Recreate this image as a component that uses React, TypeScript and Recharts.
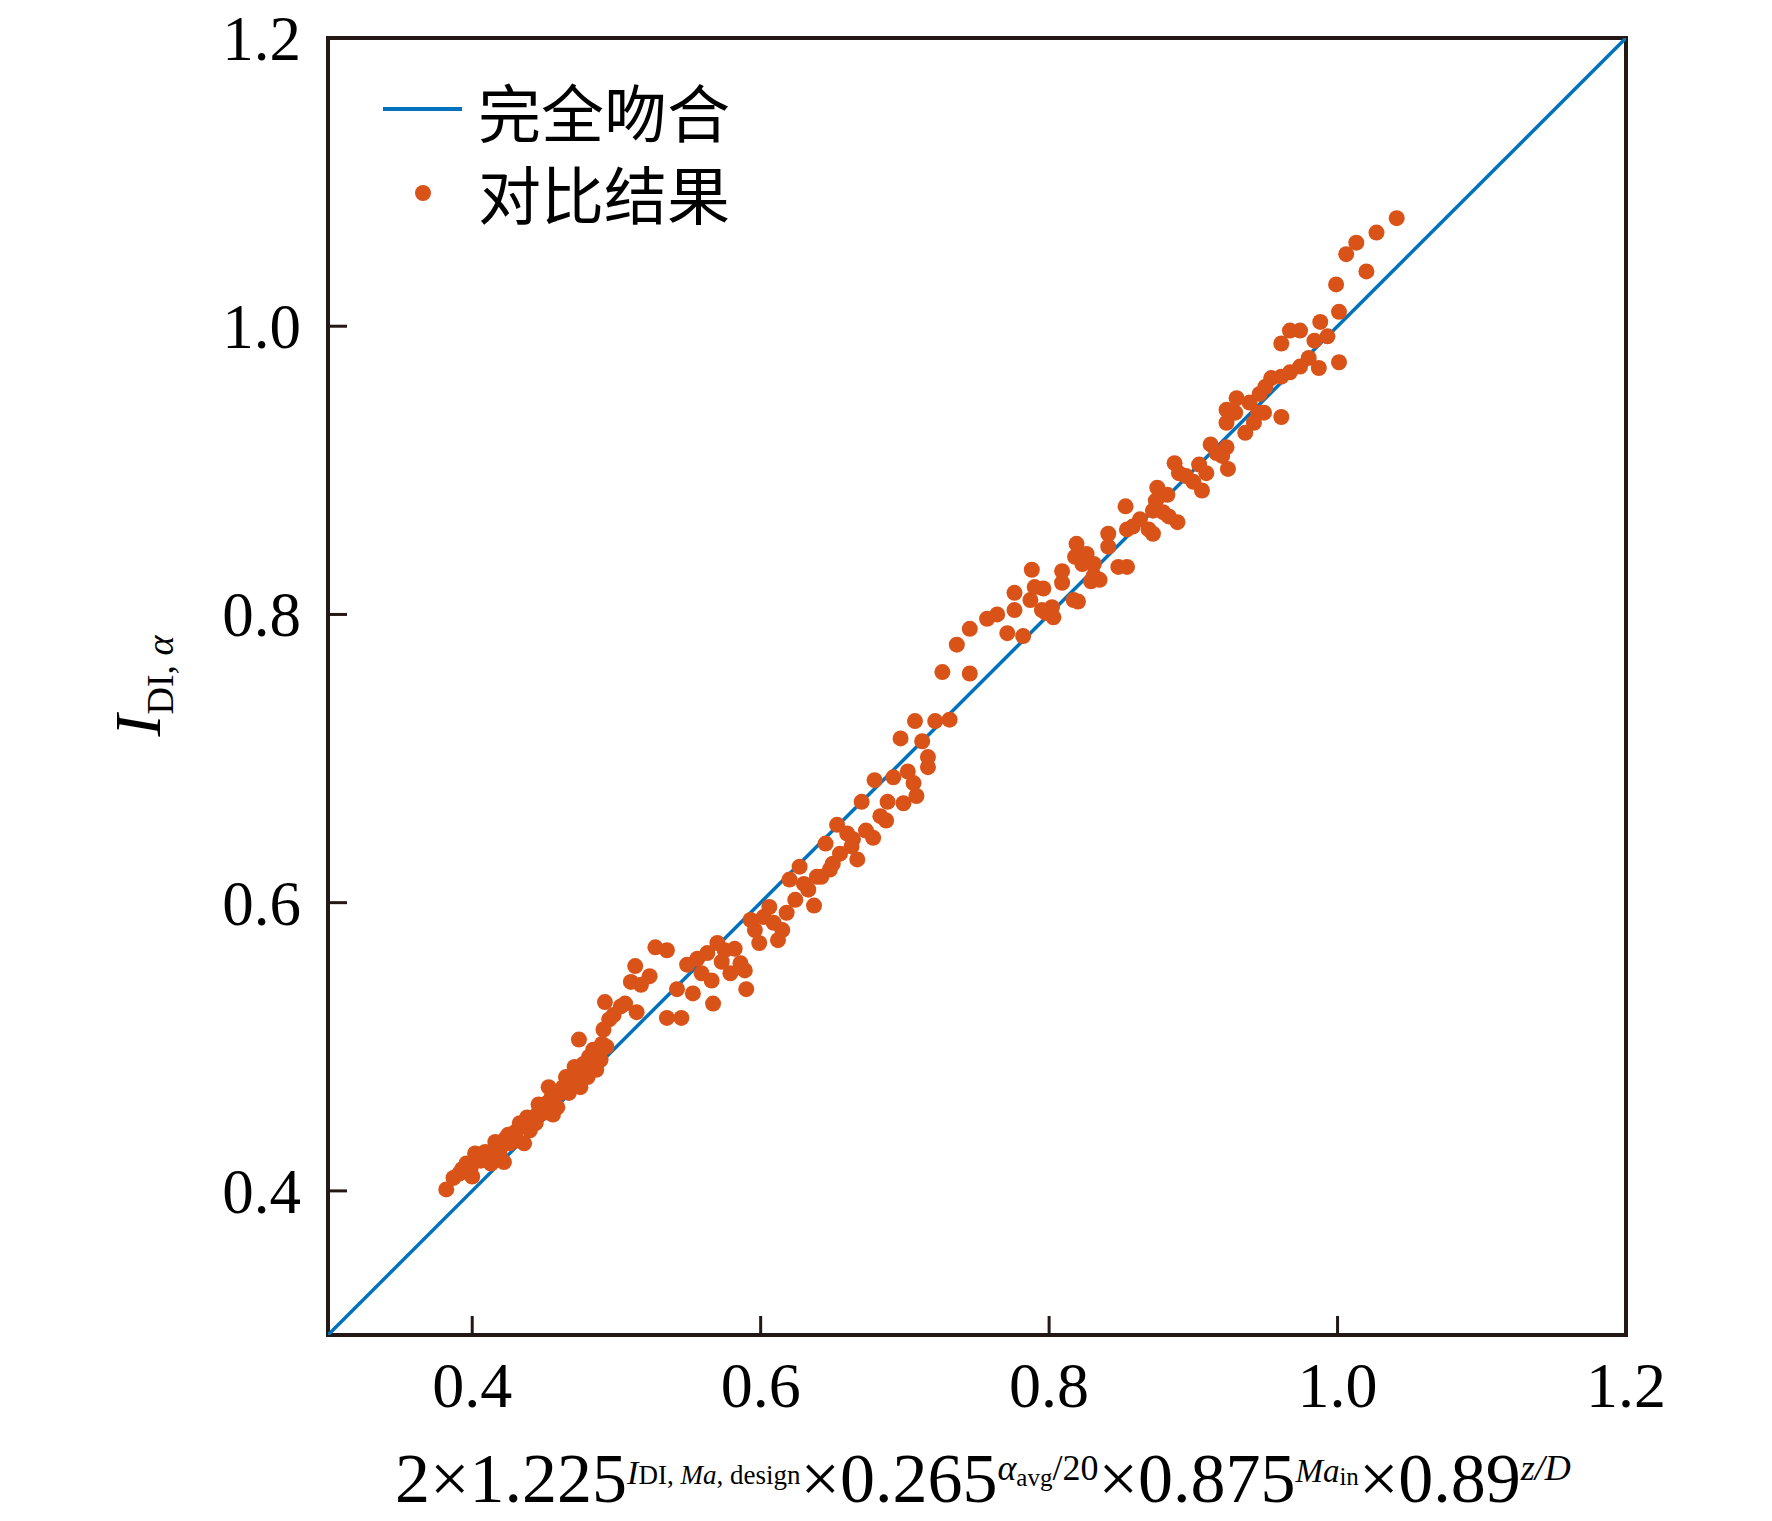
import React from "react";
import { ScatterChart, Scatter, XAxis, YAxis, ReferenceArea, Legend } from "recharts";

// 完全吻合 reference line end points (y = x)
const fitEnds = [0.3, 1.2];

// 对比结果: [correlation value, I_DI,α]
const lowerBand = [
  [0.382, 0.401], [0.387, 0.409], [0.391, 0.412], [0.393, 0.415], [0.396, 0.419], [0.399, 0.416],
  [0.4, 0.41], [0.402, 0.426], [0.406, 0.421], [0.409, 0.427], [0.41, 0.423], [0.413, 0.419],
  [0.416, 0.434], [0.417, 0.425], [0.419, 0.428], [0.422, 0.42], [0.423, 0.436], [0.425, 0.439],
  [0.426, 0.433], [0.43, 0.441], [0.431, 0.435], [0.433, 0.447], [0.436, 0.433], [0.438, 0.451],
  [0.44, 0.442], [0.444, 0.447], [0.445, 0.453], [0.446, 0.46], [0.449, 0.454], [0.452, 0.461],
  [0.453, 0.472], [0.455, 0.465], [0.456, 0.453], [0.459, 0.458], [0.461, 0.468], [0.463, 0.472],
  [0.465, 0.479], [0.467, 0.468], [0.469, 0.475], [0.471, 0.486], [0.473, 0.479], [0.474, 0.505],
  [0.475, 0.472], [0.477, 0.488], [0.48, 0.479], [0.481, 0.493], [0.483, 0.488], [0.484, 0.498],
  [0.486, 0.484], [0.489, 0.491], [0.49, 0.502], [0.491, 0.512], [0.492, 0.531], [0.493, 0.5],
  [0.495, 0.519], [0.498, 0.522], [0.503, 0.528], [0.506, 0.53], [0.51, 0.545], [0.513, 0.556],
  [0.514, 0.524], [0.517, 0.543], [0.523, 0.549], [0.527, 0.569], [0.535, 0.567], [0.535, 0.52],
  [0.542, 0.54], [0.545, 0.52], [0.549, 0.557], [0.553, 0.537], [0.556, 0.561], [0.559, 0.551],
  [0.563, 0.565], [0.566, 0.546], [0.567, 0.53], [0.57, 0.572], [0.573, 0.559], [0.575, 0.567],
  [0.579, 0.551], [0.582, 0.568], [0.586, 0.558], [0.589, 0.553], [0.59, 0.54], [0.593, 0.588],
  [0.596, 0.581], [0.599, 0.572], [0.602, 0.59], [0.606, 0.597], [0.609, 0.586], [0.612, 0.574],
  [0.615, 0.581], [0.618, 0.593], [0.62, 0.616], [0.624, 0.602], [0.627, 0.625], [0.63, 0.613],
  [0.633, 0.609], [0.637, 0.598], [0.639, 0.618],
];

const middleBand = [
  [0.642, 0.618], [0.645, 0.641], [0.648, 0.623], [0.65, 0.627], [0.653, 0.654], [0.655, 0.634],
  [0.66, 0.648], [0.663, 0.639], [0.664, 0.644], [0.667, 0.63], [0.67, 0.67], [0.673, 0.65],
  [0.678, 0.645], [0.679, 0.685], [0.683, 0.66], [0.687, 0.657], [0.688, 0.67], [0.692, 0.687],
  [0.697, 0.714], [0.699, 0.669], [0.702, 0.691], [0.706, 0.683], [0.707, 0.726], [0.708, 0.674],
  [0.712, 0.712], [0.716, 0.701], [0.716, 0.694], [0.721, 0.726], [0.726, 0.76], [0.731, 0.727],
  [0.736, 0.779], [0.745, 0.759], [0.745, 0.79], [0.757, 0.797], [0.764, 0.8], [0.771, 0.787],
  [0.776, 0.803], [0.776, 0.815], [0.782, 0.785], [0.787, 0.81], [0.788, 0.831], [0.79, 0.819],
  [0.795, 0.803], [0.796, 0.818], [0.798, 0.801], [0.802, 0.805], [0.803, 0.798], [0.809, 0.83],
  [0.809, 0.822], [0.817, 0.81], [0.818, 0.84], [0.819, 0.849], [0.82, 0.809], [0.823, 0.835],
  [0.826, 0.842], [0.829, 0.823], [0.831, 0.835], [0.831, 0.827], [0.835, 0.824], [0.841, 0.856],
  [0.841, 0.847], [0.848, 0.833], [0.853, 0.875], [0.854, 0.833], [0.854, 0.859], [0.858, 0.861],
  [0.863, 0.866], [0.869, 0.859], [0.872, 0.856], [0.872, 0.872],
];

const upperBand = [
  [0.874, 0.879], [0.875, 0.888], [0.879, 0.871], [0.882, 0.883], [0.883, 0.868], [0.887, 0.905],
  [0.889, 0.864], [0.89, 0.898], [0.895, 0.896], [0.9, 0.892], [0.904, 0.904], [0.906, 0.886],
  [0.909, 0.898], [0.912, 0.918], [0.916, 0.912], [0.92, 0.91], [0.923, 0.916], [0.924, 0.901],
  [0.923, 0.942], [0.923, 0.933], [0.929, 0.94], [0.93, 0.95], [0.936, 0.926], [0.939, 0.947],
  [0.942, 0.933], [0.945, 0.94], [0.946, 0.953], [0.949, 0.94], [0.95, 0.958], [0.954, 0.964],
  [0.961, 0.965], [0.961, 0.937], [0.961, 0.988], [0.967, 0.968], [0.967, 0.997], [0.974, 0.972],
  [0.974, 0.997], [0.98, 0.978], [0.984, 0.99], [0.987, 0.971], [0.988, 1.003], [0.993, 0.993],
  [1.001, 0.975], [1.001, 1.01], [0.999, 1.029], [1.006, 1.05], [1.013, 1.058], [1.02, 1.038],
  [1.027, 1.065], [1.041, 1.075],
];

const axisTicks = [0.4, 0.6, 0.8, 1.0, 1.2];

const BLUE = "#0072BD";
const ORANGE = "#D95319";
const FRAME = "#231815";
const SERIF = "'Liberation Serif', 'Times New Roman', serif";
const CJK = "'Noto Sans CJK SC', sans-serif";

const W = 1756;
const H = 1513;

const fitData = fitEnds.map((v) => ({ x: v, y: v }));
const pointData = [...lowerBand, ...middleBand, ...upperBand].map(([x, y]) => ({ x, y }));

function XTick({ x, y, payload }: any) {
  return (
    <g>
      <line x1={x} x2={x} y1={y} y2={y - 19} stroke={FRAME} strokeWidth={3} />
      <text x={x} y={y + 72} textAnchor="middle" fontFamily={SERIF} fontSize={64} fill="#000">
        {Number(payload.value).toFixed(1)}
      </text>
    </g>
  );
}

function YTick({ x, y, payload }: any) {
  return (
    <g>
      <line x1={x} x2={x + 19} y1={y} y2={y} stroke={FRAME} strokeWidth={3} />
      <text x={x - 27} y={y + 22} textAnchor="end" fontFamily={SERIF} fontSize={63} fill="#000">
        {Number(payload.value).toFixed(1)}
      </text>
    </g>
  );
}

function XTitle() {
  return (
    <text x={975} y={1494} textAnchor="middle" fontFamily={SERIF} fill="#000">
      <tspan fontSize={70}>2×1.225</tspan>
      <tspan fontSize={34} fontStyle="italic" dy={-18}>I</tspan>
      <tspan fontSize={27}>DI, </tspan>
      <tspan fontSize={27} fontStyle="italic">Ma</tspan>
      <tspan fontSize={27}>, design</tspan>
      <tspan fontSize={70} dy={18}>×0.265</tspan>
      <tspan fontSize={36} fontStyle="italic" dy={-22}>α</tspan>
      <tspan fontSize={25} dy={6}>avg</tspan>
      <tspan fontSize={36} dy={-6}>/20</tspan>
      <tspan fontSize={70} dy={22}>×0.875</tspan>
      <tspan fontSize={33} fontStyle="italic" dy={-20}>Ma</tspan>
      <tspan fontSize={25} dy={3}>in</tspan>
      <tspan fontSize={70} dy={17}>×0.89</tspan>
      <tspan fontSize={36} fontStyle="italic" dy={-22}>z/D</tspan>
    </text>
  );
}

function YTitle() {
  return (
    <text
      x={0}
      y={0}
      transform="translate(152, 678) rotate(-90)"
      textAnchor="middle"
      fontFamily={SERIF}
      fill="#000"
    >
      <tspan fontSize={66} fontStyle="italic">I</tspan>
      <tspan fontSize={38} dy={13}>DI, </tspan>
      <tspan fontSize={38} fontStyle="italic">α</tspan>
    </text>
  );
}

function LegendBox() {
  return (
    <svg width={760} height={240} style={{ display: "block" }}>
      <line x1={375} x2={454} y1={101} y2={101} stroke={BLUE} strokeWidth={4} />
      <text x={470} y={101} dominantBaseline="central" fontFamily={CJK} fontSize={63} fill="#000">
        完全吻合
      </text>
      <circle cx={415} cy={185} r={8} fill={ORANGE} />
      <text x={470} y={183} dominantBaseline="central" fontFamily={CJK} fontSize={63} fill="#000">
        对比结果
      </text>
    </svg>
  );
}

export default function App() {
  return (
    <div style={{ width: W, height: H, background: "#fff" }}>
      <ScatterChart width={W} height={H} margin={{ top: 30, right: 138, left: 200, bottom: 86 }}>
        <XAxis
          type="number"
          dataKey="x"
          domain={[0.3, 1.2]}
          ticks={axisTicks}
          allowDataOverflow
          axisLine={false}
          tickLine={false}
          tickSize={0}
          tickMargin={0}
          height={100}
          tick={<XTick />}
          label={{ content: () => <XTitle /> }}
        />
        <YAxis
          type="number"
          dataKey="y"
          domain={[0.3, 1.2]}
          ticks={axisTicks}
          allowDataOverflow
          axisLine={false}
          tickLine={false}
          tickSize={0}
          tickMargin={0}
          width={120}
          tick={<YTick />}
          label={{ content: () => <YTitle /> }}
        />
        <ReferenceArea
          x1={0.3}
          x2={1.2}
          y1={0.3}
          y2={1.2}
          fill="none"
          fillOpacity={0}
          stroke={FRAME}
          strokeWidth={4}
        />
        <Scatter
          name="完全吻合"
          data={fitData}
          line={{ stroke: BLUE, strokeWidth: 3.5 }}
          shape={() => <g />}
          isAnimationActive={false}
        />
        <Scatter
          name="对比结果"
          data={pointData}
          fill={ORANGE}
          shape={(p: any) => <circle cx={p.cx} cy={p.cy} r={8} fill={ORANGE} />}
          isAnimationActive={false}
        />
        <Legend
          layout="horizontal"
          verticalAlign="middle"
          align="center"
          wrapperStyle={{ position: "absolute", left: 0, top: 0, width: 760, height: 240 }}
          content={() => <LegendBox />}
        />
      </ScatterChart>
    </div>
  );
}
